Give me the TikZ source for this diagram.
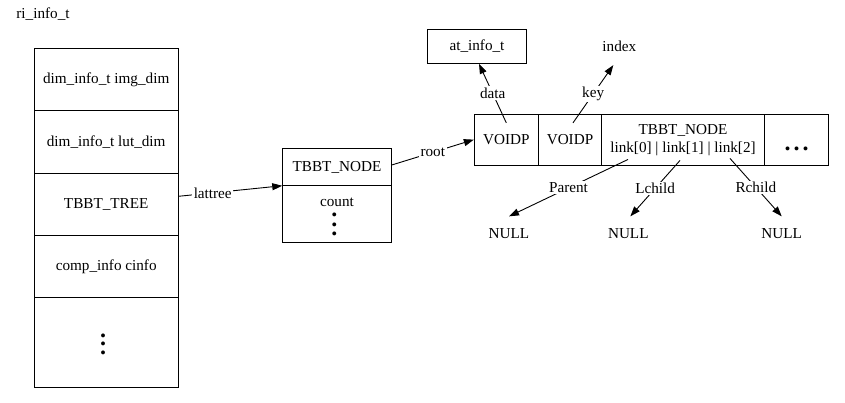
\documentclass[tikz,border=0pt]{standalone}
\usepackage{fontspec}
\setmainfont{Liberation Serif}
\usetikzlibrary{arrows.meta}
\begin{document}
\begin{tikzpicture}[x=1pt,y=-1pt,
  font=\fontsize{15.2}{18}\selectfont,
  line width=0.9pt,
  cell/.style={draw, rectangle, inner sep=0pt, anchor=center, align=center},
  plain/.style={inner sep=0pt, anchor=center},
  elab/.style={fill=white, inner sep=1.5pt},
  arr/.style={-{Triangle[length=10pt,width=7pt]}},
  dt/.style={inner sep=0pt, anchor=center, font=\bfseries\fontsize{24}{24}\selectfont},
  vdt/.style={inner sep=0pt, anchor=center, align=center, font=\bfseries\fontsize{24}{8.6}\selectfont},
]
\useasboundingbox (0,0) rectangle (845,403);

% title
\node[plain] (title) at (43,14) {ri\_info\_t};

% left record
\node[cell, minimum width=143.7pt, minimum height=62pt] (imgdim) at (106.2,79.3) {dim\_info\_t img\_dim};
\node[cell, minimum width=143.7pt, minimum height=63pt] (lutdim) at (106.2,141.8) {dim\_info\_t lut\_dim};
\node[cell, minimum width=143.7pt, minimum height=62pt] (tree) at (106.2,204.3) {TBBT\_TREE};
\node[cell, minimum width=143.7pt, minimum height=62.4pt] (cinfo) at (106.2,266.5) {comp\_info cinfo};
\node[cell, minimum width=143.7pt, minimum height=89.6pt] (lrest) at (106.2,342.5) {};
\node[vdt] (ldots) at (103,344.2) {.\\.\\.};

% TBBT_NODE box
\node[cell, minimum width=108.6pt, minimum height=36.6pt] (tnhead) at (337,167) {TBBT\_NODE};
\node[cell, minimum width=108.6pt, minimum height=56.7pt] (tnbody) at (337,213.65) {};
\node[plain] (count) at (337,202) {count};
\node[vdt, font=\bfseries\fontsize{24}{9.6}\selectfont] (cdots) at (334.3,224.7) {.\\.\\.};

% right record
\node[cell, minimum width=64pt, minimum height=50.7pt] (v1) at (506.3,139.65) {VOIDP};
\node[cell, minimum width=63.4pt, minimum height=50.7pt] (v2) at (570,139.65) {VOIDP};
\node[cell, minimum width=162.6pt, minimum height=50.7pt] (tb) at (683,139.65) {TBBT\_NODE\\link[0] | link[1] | link[2]};
\node[cell, minimum width=64pt, minimum height=50.7pt] (more) at (796.3,139.65) {};
\node[dt] (hdots) at (796.7,149.3) {.\hspace{3pt}.\hspace{3pt}.};

% targets
\node[cell, minimum width=99.4pt, minimum height=34pt] (atinfo) at (477,46.3) {at\_info\_t};
\node[plain, minimum height=36pt] (index) at (619.3,46.7) {index};
\node[plain, minimum height=33pt] (n1) at (509,233.3) {NULL};
\node[plain, minimum height=33pt] (n2) at (628.3,233.3) {NULL};
\node[plain, minimum height=33pt] (n3) at (781.7,233.3) {NULL};

% connectors
\draw[arr] ([yshift=8pt]tree.east) -- node[elab,pos=0.33]{lattree} (tnhead.south west);
\draw[arr] ([yshift=2pt]tnhead.east) -- node[elab]{root} (v1.west);
\draw[arr] ([yshift=-9pt]v1.north) -- node[elab]{data} ([xshift=2pt]atinfo.south);
\draw[arr] ([xshift=3pt,yshift=-9pt]v2.north) -- node[elab]{key} ([xshift=-6pt]index.south);
\draw[arr] ([xshift=-55pt,yshift=6pt]tb.south) -- node[elab]{Parent} (n1.north);
\draw[arr] ([xshift=-3pt,yshift=5pt]tb.south) -- node[elab]{Lchild} ([xshift=2pt]n2.north);
\draw[arr] ([xshift=47pt,yshift=7pt]tb.south) -- node[elab]{Rchild} (n3.north);
\end{tikzpicture}
\end{document}
